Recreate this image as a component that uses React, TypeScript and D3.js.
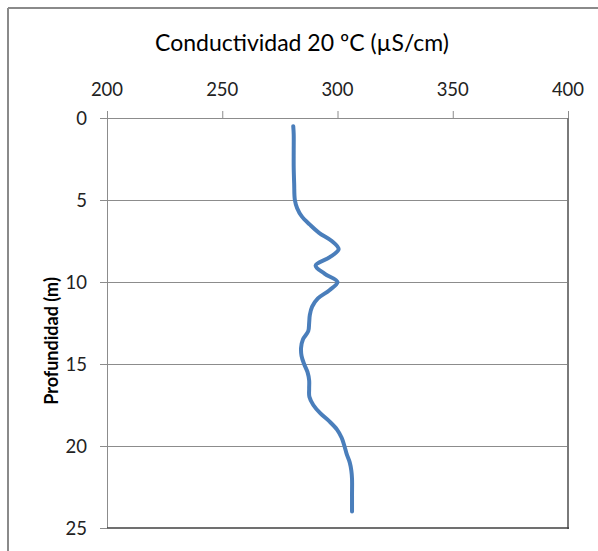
import * as d3 from 'd3'

const WIDTH = 598
const HEIGHT = 551
const PLOT = { left: 107, right: 568, top: 118, bottom: 528 }

const TITLE = 'Conductividad 20 ºC (µS/cm)'
const Y_LABEL = 'Profundidad (m)'

const X_TICKS = [200, 250, 300, 350, 400]
const Y_TICKS = [0, 5, 10, 15, 20, 25]

// depth (m) and conductivity (µS/cm)
const DEPTHS = [
  0.5, 1, 2, 3, 4, 5, 5.5, 6, 6.5, 7, 7.5, 8, 8.5, 9, 9.5, 10, 10.5, 11, 11.5, 12,
  12.5, 13, 13.5, 14, 14.5, 15, 15.5, 16, 16.5, 17, 17.5, 18, 18.5, 19, 19.5, 20,
  20.5, 21, 21.5, 22, 23, 24,
]
const CONDUCTIVITY = [
  280.8, 281, 281, 281, 281.2, 281.5, 282.5, 284.5, 288, 292, 297.5, 300.5, 296.5, 290.5, 294.5, 300, 296.5, 291.5, 289, 288,
  287.7, 287.3, 285, 284.2, 284.4, 285.5, 287, 287.7, 287.7, 287.8, 289.5, 292.5, 296.5, 299.8, 301.8, 303,
  304, 305.3, 306, 306.3, 306.3, 306.3,
]

const FONT = 'Lato, "Open Sans", sans-serif'

export default function App() {
  const x = d3.scaleLinear().domain([200, 400]).range([PLOT.left, PLOT.right])
  const y = d3.scaleLinear().domain([0, 25]).range([PLOT.top, PLOT.bottom])

  const points = DEPTHS.map((d, i) => ({ depth: d, value: CONDUCTIVITY[i] }))

  const line = d3.line<{ depth: number; value: number }>()
    .x(d => x(d.value))
    .y(d => y(d.depth))
    .curve(d3.curveCatmullRom.alpha(0.5))

  return (
    <svg
      width={WIDTH}
      height={HEIGHT}
      style={{ position: 'absolute', left: 0, top: 0, display: 'block', background: '#fff' }}
      fontFamily={FONT}
    >
      {/* chart frame: only the left and top edges are inside the picture */}
      <line x1={8} x2={WIDTH} y1={8} y2={8} stroke="#8a8a8a" strokeWidth={2} />
      <line x1={8} x2={8} y1={8} y2={HEIGHT} stroke="#8a8a8a" strokeWidth={2} />

      <text x={302} y={51} textAnchor="middle" fontSize={23} fill="#000">
        {TITLE}
      </text>

      {/* horizontal grid lines */}
      {Y_TICKS.filter(t => t > 0 && t < 25).map(t => (
        <line key={`g-${t}`} x1={PLOT.left} x2={PLOT.right} y1={y(t) + 0.5} y2={y(t) + 0.5} stroke="#8c8c8c" strokeWidth={1} />
      ))}

      {/* top axis + ticks */}
      <line x1={PLOT.left} x2={PLOT.right} y1={PLOT.top + 0.5} y2={PLOT.top + 0.5} stroke="#8c8c8c" strokeWidth={1} />
      {X_TICKS.map(t => (
        <g key={`x-${t}`}>
          <line x1={x(t) + 0.5} x2={x(t) + 0.5} y1={PLOT.top - 7} y2={PLOT.top} stroke="#8c8c8c" strokeWidth={1} />
          <text x={x(t)} y={96} textAnchor="middle" fontSize={18.5} fill="#222">{t}</text>
        </g>
      ))}

      {/* left axis + ticks */}
      <line x1={PLOT.left + 0.5} x2={PLOT.left + 0.5} y1={PLOT.top} y2={PLOT.bottom} stroke="#8c8c8c" strokeWidth={1} />
      {Y_TICKS.map(t => (
        <g key={`y-${t}`}>
          <line x1={PLOT.left - 7} x2={PLOT.left} y1={y(t) + 0.5} y2={y(t) + 0.5} stroke="#8c8c8c" strokeWidth={1} />
          <text x={87} y={y(t)} textAnchor="end" dominantBaseline="central" fontSize={18.5} fill="#222">{t}</text>
        </g>
      ))}

      {/* plot area right and bottom edges */}
      <line x1={PLOT.right} x2={PLOT.right} y1={PLOT.top} y2={PLOT.bottom + 1} stroke="#7a7a7a" strokeWidth={2} />
      <line x1={PLOT.left} x2={PLOT.right + 1} y1={PLOT.bottom} y2={PLOT.bottom} stroke="#404040" strokeWidth={1.5} />

      <text
        transform={`translate(58, 341) rotate(-90)`}
        textAnchor="middle"
        fontSize={18}
        fontWeight="bold"
        fill="#000"
      >
        {Y_LABEL}
      </text>

      <path
        d={line(points) || ''}
        fill="none"
        stroke="#4a7ebb"
        strokeWidth={4}
        strokeLinecap="round"
        strokeLinejoin="round"
      />
    </svg>
  )
}
